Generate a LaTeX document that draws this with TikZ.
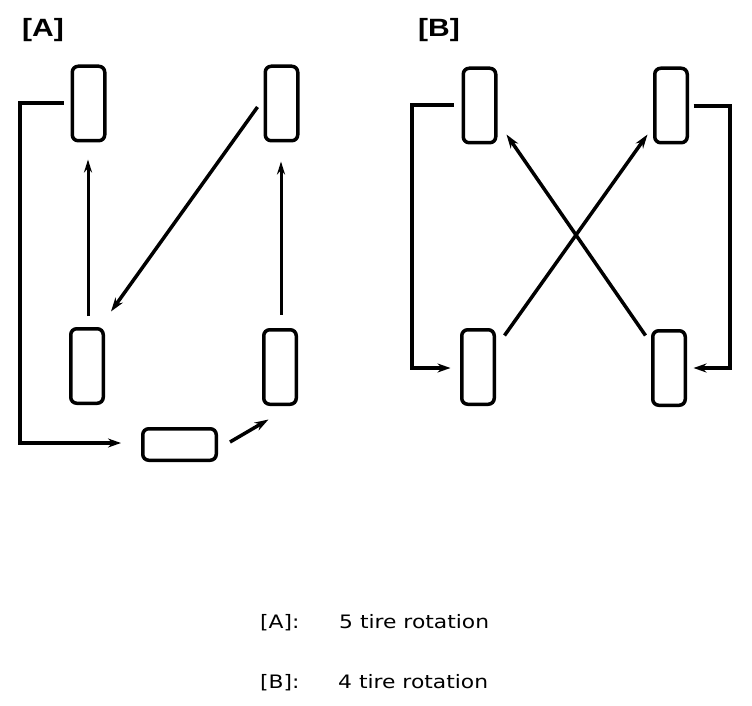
\documentclass[tikz,border=0pt]{standalone}
\usepackage{fontspec}
\setmainfont{DejaVu Sans}
\newfontfamily\labfont{Liberation Sans}
\usetikzlibrary{arrows.meta,calc}
\begin{document}
\begin{tikzpicture}[x=1pt,y=-1pt,
  tire/.style={draw,line width=3.5pt,rounded corners=6pt,minimum width=32.5pt,minimum height=74.5pt,inner sep=0pt},
  sparetire/.style={draw,line width=3.5pt,rounded corners=6pt,minimum width=73.5pt,minimum height=31.5pt,inner sep=0pt},
  conn/.style={line width=3.5pt,-{Stealth[length=14pt,width=9pt]}},
  loopc/.style={line width=4pt,-{Stealth[length=13pt,width=9pt]}},
  upline/.style={line width=3pt,-{Stealth[length=13pt,width=8pt]}},
  lab/.style={anchor=base west,inner sep=0pt,font=\labfont\bfseries\fontsize{25}{25}\selectfont},
  captext/.style={anchor=base west,inner sep=0pt,font=\fontsize{18.5}{18.5}\selectfont}]
\useasboundingbox (0,0) rectangle (752,706);
\fill[white] (0,0) rectangle (752,706);
% labels
\node[lab] (la) at (22,37) {\scalebox{1.2}[1]{[A]}};
\node[lab] (lb) at (418,37) {\scalebox{1.2}[1]{[B]}};
% panel A tires
\node[tire] (afl) at (88.5,103.5) {};
\node[tire] (afr) at (281.5,103.5) {};
\node[tire] (arl) at (87,366) {};
\node[tire] (arr) at (280,367) {};
\node[sparetire] (spare) at (179.5,444.5) {};
% panel A connectors
\draw[loopc] ([xshift=-7pt]afl.west) -- ++(-44,0) |- ([shift={(-20,-1.5)}]spare.west);
\draw[upline] ([shift={(1,-11)}]arl.north) -- ([shift={(-0.5,17)}]afl.south);
\draw[upline] ([shift={(1,-13.5)}]arr.north) -- ([shift={(-0.5,19)}]afr.south);
\draw[conn] ([shift={(-6,3.5)}]afr.west) -- ([shift={(6,-15.5)}]arl.north east);
\draw[conn] ([shift={(12,-2.5)}]spare.east) -- ([shift={(6.5,13.5)}]arr.south west);
% panel B tires
\node[tire] (bfl) at (479.5,105.5) {};
\node[tire] (bfr) at (671,105.5) {};
\node[tire] (brl) at (478,367) {};
\node[tire] (brr) at (669,368) {};
% panel B connectors
\draw[loopc] ([xshift=-8pt]bfl.west) -- ++(-42,0) |- ([shift={(-9.5,1)}]brl.west);
\draw[loopc] ([shift={(4.5,0.5)}]bfr.east) -- ++(36,0) |- ([shift={(6.5,0)}]brr.east);
\draw[conn] ([shift={(8.5,7.5)}]brl.north east) -- ([shift={(-5.5,-10)}]bfr.south west);
\draw[conn] ([shift={(-5.5,6.5)}]brr.north west) -- ([shift={(9,-10)}]bfl.south east);
% caption
\node[captext] (ca) at (260,628) {\scalebox{1.18}[1]{[A]:}};
\node[captext] (cat) at (339,628) {\scalebox{1.18}[1]{5 tire rotation}};
\node[captext] (cb) at (260,688) {\scalebox{1.18}[1]{[B]:}};
\node[captext] (cbt) at (338,688) {\scalebox{1.18}[1]{4 tire rotation}};
\end{tikzpicture}
\end{document}
